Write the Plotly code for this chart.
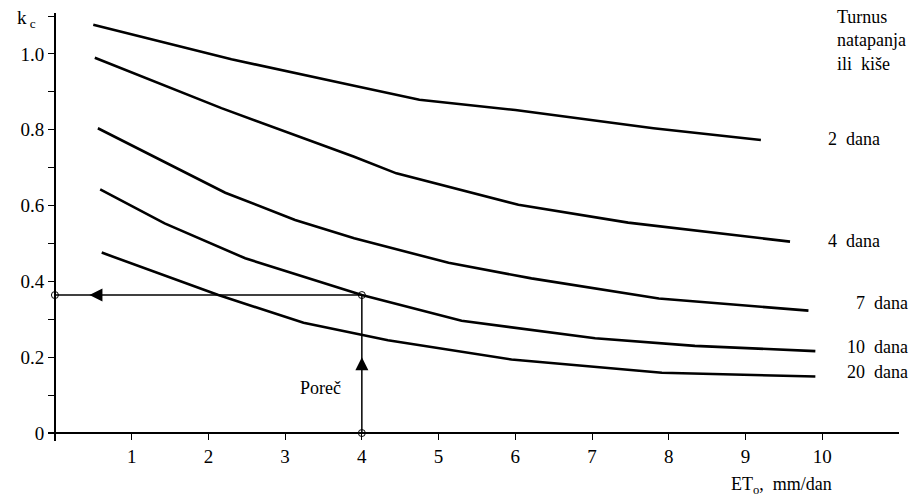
import plotly.graph_objects as go

# ---- data ----
et_2 = [0.5, 1.3, 2.3, 3.9, 4.75, 6.0, 7.8, 9.2]
kc_2 = [1.077, 1.037, 0.986, 0.916, 0.879, 0.852, 0.804, 0.773]
et_4 = [0.52, 2.17, 3.9, 4.45, 6.04, 7.47, 9.58]
kc_4 = [0.99, 0.857, 0.729, 0.685, 0.602, 0.555, 0.505]
et_7 = [0.56, 2.22, 3.13, 3.9, 5.13, 6.21, 7.87, 9.82]
kc_7 = [0.804, 0.634, 0.562, 0.514, 0.449, 0.408, 0.355, 0.323]
et_10 = [0.59, 1.43, 2.48, 4.0, 5.3, 7.04, 8.34, 9.91]
kc_10 = [0.643, 0.553, 0.461, 0.364, 0.296, 0.250, 0.230, 0.216]
et_20 = [0.61, 2.13, 3.24, 4.34, 5.95, 7.91, 9.91]
kc_20 = [0.476, 0.364, 0.291, 0.245, 0.194, 0.159, 0.149]

series_labels = ["2\u00a0 dana", "4\u00a0 dana", "7\u00a0 dana", "10\u00a0 dana", "20\u00a0 dana"]
# label anchor positions (paper fractions, right edge / vertical centre)
label_px = [0.980, 0.980, 1.013, 1.013, 1.013]
label_py = [0.706, 0.467, 0.322, 0.220, 0.161]

porec_et = 4.0
porec_kc = 0.364
arrow_h_et = 0.45   # left-pointing arrowhead on the horizontal line
arrow_v_kc = 0.20   # up-pointing arrowhead on the vertical line

x_ticks = [1, 2, 3, 4, 5, 6, 7, 8, 9, 10]
y_ticks = [0, 0.2, 0.4, 0.6, 0.8, 1.0]
y_ticktext = ["0", "0.2", "0.4", "0.6", "0.8", "1.0"]

FONT = "Liberation Serif"
XR = [-0.09, 11.0]
YR = [-0.021, 1.108]

fig = go.Figure()
for xs, ys in [(et_2, kc_2), (et_4, kc_4), (et_7, kc_7), (et_10, kc_10), (et_20, kc_20)]:
    fig.add_trace(go.Scatter(x=xs, y=ys, mode="lines",
                             line=dict(color="black", width=2.6),
                             showlegend=False, hoverinfo="skip"))

# Poreč construction lines
fig.add_trace(go.Scatter(x=[porec_et, 0], y=[porec_kc, porec_kc], mode="lines",
                         line=dict(color="black", width=1.5), showlegend=False,
                         hoverinfo="skip"))
fig.add_trace(go.Scatter(x=[porec_et, porec_et], y=[0, porec_kc], mode="lines",
                         line=dict(color="black", width=1.5), showlegend=False,
                         hoverinfo="skip"))
fig.add_trace(go.Scatter(x=[porec_et, 0, porec_et], y=[porec_kc, porec_kc, 0], mode="markers",
                         marker=dict(symbol="circle-open", size=7, color="black",
                                     line=dict(width=1)),
                         showlegend=False, cliponaxis=False, hoverinfo="skip"))
# arrowheads
fig.add_trace(go.Scatter(x=[arrow_h_et], y=[porec_kc], mode="markers",
                         marker=dict(symbol="arrow-left", size=13, color="black",
                                     line=dict(width=0)),
                         showlegend=False, hoverinfo="skip"))
fig.add_trace(go.Scatter(x=[porec_et], y=[arrow_v_kc], mode="markers",
                         marker=dict(symbol="arrow-up", size=13, color="black",
                                     line=dict(width=0)),
                         showlegend=False, hoverinfo="skip"))

tf = dict(family=FONT, size=18, color="black")
tick_f = dict(family=FONT, size=19, color="black")
for lab, px, py in zip(series_labels, label_px, label_py):
    fig.add_annotation(x=px, y=py, xref="paper", yref="paper", text=lab, showarrow=False,
                       xanchor="right", yanchor="middle", font=tf)

fig.add_annotation(x=0.925, y=1.0, xref="paper", yref="paper",
                   text="Turnus<br>natapanja<br>ili\u00a0\u00a0kiše",
                   showarrow=False, xanchor="left", yanchor="top", align="left",
                   font=tf, yshift=8)
fig.add_annotation(x=3.46, y=0.119, xref="x", yref="y", text="Poreč",
                   showarrow=False, xanchor="center", font=tf)
fig.add_annotation(x=-0.0247, y=0.985, xref="paper", yref="paper",
                   text="k<sub>\u00a0c</sub>", xanchor="center", yanchor="middle",
                   showarrow=False, font=tick_f)
fig.add_annotation(x=0.862, y=-0.105, xref="paper", yref="paper",
                   text="ET<sub>o</sub>,\u00a0 mm/dan", xanchor="center", yanchor="middle",
                   showarrow=False, font=tf)

fig.update_layout(
    width=921, height=503,
    margin=dict(l=48, r=22, t=13, b=62),
    paper_bgcolor="white", plot_bgcolor="white",
    font=dict(family=FONT, size=18, color="black"),
    xaxis=dict(range=XR, domain=[0, 1], anchor="free",
               position=(0 - YR[0]) / (YR[1] - YR[0]),
               showline=True, linecolor="black", linewidth=1.5,
               ticks="outside", ticklen=6, tickwidth=1.2, tickcolor="black",
               tickvals=x_ticks, ticktext=[str(v) for v in x_ticks],
               showgrid=False, zeroline=False, tickfont=tick_f),
    yaxis=dict(range=YR, domain=[0, 1], anchor="free",
               position=(0 - XR[0]) / (XR[1] - XR[0]),
               showline=True, linecolor="black", linewidth=1.5,
               ticks="outside", ticklen=6, tickwidth=1.2, tickcolor="black",
               tickvals=y_ticks, ticktext=y_ticktext,
               minor=dict(dtick=0.1, tick0=0, ticks="outside", ticklen=6,
                          tickwidth=1.2, tickcolor="black", showgrid=False),
               showgrid=False, zeroline=False, tickfont=tick_f),
)

fig.write_html("out.html", config={"displayModeBar": False},
               post_script="document.body.style.margin='0';")
